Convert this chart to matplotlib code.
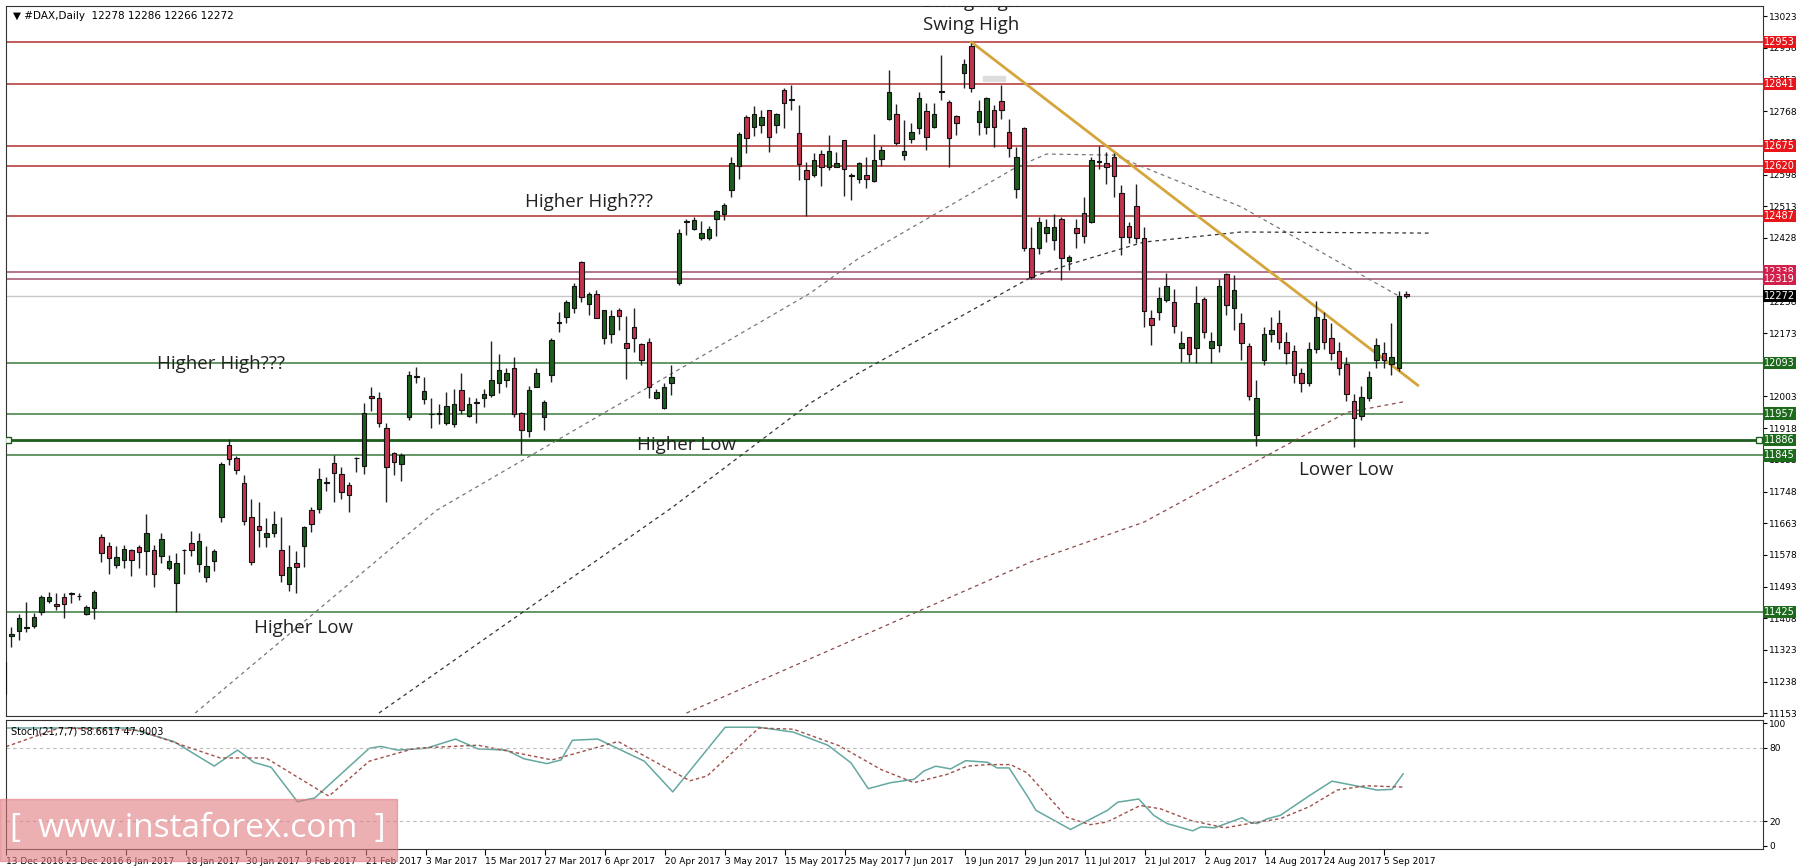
import numpy as np
import matplotlib
matplotlib.use("Agg")
import matplotlib.pyplot as plt
from matplotlib.patches import Rectangle
from matplotlib.transforms import blended_transform_factory

# ---- daily DAX bars ----
opens = [11205, 11360, 11375, 11385, 11387, 11426, 11455, 11446, 11466, 11475, 11468, 11420, 11435, 11625, 11603, 11551,
         11564, 11591, 11598, 11589, 11591, 11576, 11544, 11502, 11591, 11611, 11553, 11518, 11562, 11680, 11872, 11839,
         11772, 11680, 11656, 11625, 11638, 11591, 11499, 11555, 11603, 11698, 11700, 11770, 11825, 11795, 11765, 11837,
         11816, 12004, 11998, 11917, 11852, 11823, 11949, 12056, 11995, 11955, 11956, 11931, 11929, 12020, 11951, 11986,
         11998, 12007, 12038, 12047, 12080, 11959, 11911, 12029, 11949, 12060, 12201, 12217, 12239, 12364, 12251, 12277,
         12159, 12170, 12236, 12147, 12188, 12143, 12150, 11998, 11971, 12038, 12306, 12471, 12453, 12429, 12427, 12480,
         12492, 12556, 12621, 12753, 12726, 12732, 12771, 12730, 12824, 12799, 12710, 12610, 12596, 12654, 12619, 12617,
         12690, 12594, 12587, 12596, 12581, 12641, 12746, 12760, 12650, 12692, 12722, 12769, 12726, 12820, 12793, 12755,
         12869, 12942, 12739, 12726, 12772, 12796, 12713, 12558, 12724, 12402, 12400, 12440, 12422, 12480, 12367, 12456,
         12494, 12471, 12632, 12628, 12646, 12549, 12460, 12513, 12427, 12212, 12230, 12261, 12257, 12132, 12163, 12132,
         12263, 12132, 12141, 12331, 12239, 12201, 12138, 11900, 12102, 12170, 12200, 12150, 12125, 12065, 12040, 12130,
         12210, 12160, 12125, 12090, 11990, 11950, 12000, 12100, 12120, 12090, 12080, 12278]
highs = [11300, 11385, 11420, 11452, 11421, 11470, 11479, 11475, 11475, 11479, 11475, 11443, 11484, 11634, 11613, 11602,
         11604, 11595, 11604, 11689, 11604, 11636, 11578, 11582, 11595, 11643, 11636, 11603, 11595, 11828, 11890, 11843,
         11792, 11729, 11721, 11676, 11696, 11680, 11604, 11589, 11655, 11707, 11810, 11787, 11846, 11813, 11774, 11841,
         11986, 12029, 12016, 11932, 11855, 11852, 12072, 12082, 12056, 11998, 11984, 12016, 12022, 12065, 12002, 11998,
         12024, 12152, 12118, 12078, 12108, 11962, 12031, 12078, 11993, 12159, 12230, 12261, 12306, 12366, 12284, 12288,
         12236, 12236, 12239, 12218, 12239, 12147, 12159, 12022, 12038, 12087, 12451, 12480, 12485, 12474, 12460, 12504,
         12522, 12645, 12713, 12757, 12781, 12772, 12772, 12762, 12829, 12838, 12784, 12632, 12655, 12663, 12704, 12659,
         12690, 12601, 12632, 12646, 12706, 12674, 12878, 12787, 12744, 12737, 12820, 12789, 12789, 12918, 12797, 12759,
         12909, 12951, 12797, 12805, 12784, 12838, 12748, 12672, 12726, 12458, 12483, 12480, 12492, 12485, 12382, 12478,
         12537, 12646, 12674, 12659, 12655, 12570, 12471, 12574, 12458, 12234, 12297, 12335, 12290, 12179, 12163, 12299,
         12270, 12176, 12319, 12335, 12328, 12227, 12147, 12047, 12190, 12215, 12234, 12175, 12140, 12080, 12150, 12260,
         12230, 12200, 12150, 12110, 12010, 12030, 12070, 12160, 12150, 12200, 12285, 12286]
lows = [11170, 11330, 11350, 11370, 11381, 11417, 11448, 11430, 11408, 11450, 11457, 11417, 11405, 11560, 11528, 11544,
        11544, 11521, 11544, 11524, 11491, 11555, 11537, 11426, 11528, 11576, 11533, 11506, 11536, 11667, 11819, 11795,
        11658, 11551, 11600, 11600, 11627, 11506, 11481, 11477, 11546, 11640, 11691, 11750, 11721, 11728, 11692, 11801,
        11795, 11965, 11922, 11721, 11792, 11777, 11940, 12038, 11984, 11917, 11930, 11926, 11922, 11957, 11948, 11931,
        11974, 12002, 12011, 12029, 11949, 11848, 11895, 12027, 11913, 12042, 12176, 12199, 12227, 12257, 12221, 12212,
        12143, 12145, 12181, 12049, 12123, 12087, 11998, 11995, 11968, 12007, 12302, 12436, 12449, 12422, 12422, 12433,
        12476, 12538, 12587, 12656, 12701, 12710, 12659, 12710, 12724, 12772, 12583, 12487, 12592, 12568, 12610, 12617,
        12540, 12529, 12576, 12563, 12579, 12621, 12744, 12677, 12637, 12683, 12708, 12663, 12724, 12799, 12619, 12704,
        12829, 12820, 12704, 12708, 12672, 12748, 12646, 12534, 12394, 12317, 12386, 12418, 12395, 12315, 12342, 12402,
        12415, 12469, 12614, 12574, 12538, 12382, 12415, 12415, 12190, 12141, 12208, 12257, 12172, 12096, 12096, 12092,
        12159, 12092, 12123, 12221, 12181, 12100, 11993, 11870, 12088, 12150, 12130, 12090, 12040, 12015, 12030, 12120,
        12130, 12100, 12060, 11990, 11868, 11940, 11990, 12080, 12080, 12060, 12070, 12266]
closes = [11290, 11365, 11410, 11382, 11412, 11466, 11466, 11441, 11446, 11474, 11467, 11437, 11479, 11582, 11571, 11573,
          11594, 11564, 11585, 11638, 11527, 11620, 11561, 11555, 11590, 11591, 11616, 11549, 11589, 11823, 11835, 11807,
          11670, 11560, 11646, 11637, 11662, 11524, 11546, 11545, 11652, 11662, 11781, 11774, 11798, 11746, 11738, 11838,
          11959, 11998, 11931, 11813, 11828, 11846, 12060, 12055, 12018, 11956, 11957, 11977, 11982, 11966, 11984, 11987,
          12009, 12047, 12075, 12065, 11957, 11913, 12020, 12065, 11987, 12154, 12202, 12257, 12300, 12270, 12279, 12212,
          12234, 12218, 12218, 12134, 12161, 12102, 12027, 12015, 12027, 12056, 12442, 12472, 12476, 12442, 12451, 12500,
          12516, 12629, 12708, 12697, 12760, 12753, 12699, 12760, 12790, 12800, 12626, 12586, 12637, 12619, 12662, 12629,
          12614, 12595, 12628, 12586, 12637, 12663, 12820, 12683, 12662, 12713, 12802, 12699, 12760, 12821, 12695, 12737,
          12894, 12829, 12769, 12802, 12726, 12772, 12668, 12646, 12402, 12322, 12471, 12458, 12458, 12373, 12376, 12440,
          12433, 12637, 12633, 12617, 12594, 12431, 12431, 12429, 12233, 12194, 12266, 12299, 12192, 12147, 12118, 12254,
          12176, 12152, 12299, 12248, 12288, 12147, 12004, 12000, 12170, 12180, 12150, 12120, 12060, 12040, 12130, 12215,
          12150, 12120, 12080, 12010, 11945, 12002, 12055, 12140, 12100, 12110, 12272, 12272]

# moving averages (bar index, price)
ma_fast_x = [25.5, 57.7, 107.5, 114, 135, 139, 148, 165, 186]
ma_fast_y = [11154, 11698, 12280, 12374, 12618, 12653, 12650, 12511, 12272]
ma_mid_x = [50, 89, 107.5, 114, 137, 142.5, 152, 165, 190]
ma_mid_y = [11154, 11704, 11985, 12066, 12323, 12360, 12417, 12444, 12441]
ma_slow_x = [91, 137, 152, 179, 187]
ma_slow_y = [11154, 11560, 11666, 11960, 11990]

# trend line from the swing high
trend_x = [129, 188.5]
trend_y = [12953, 12033]

# horizontal levels
red_levels = [12953, 12841, 12675, 12620, 12487]
pink_levels = [12338, 12319]
green_levels = [12093, 11957, 11845, 11425]
key_level = 11886
bid_level = 12272

# stochastic (21,7,7)
stoch_k_x = [0, 16.3, 22.4, 27.8, 30.9, 33.1, 35.4, 38.9, 41.2, 48.5, 50, 52.3, 56.1, 60, 63, 66.8, 69.1, 72.2, 74.1,
             75.6, 79, 82.1, 85.2, 89, 96, 100.5, 105.1, 109.7, 112.8, 115.1, 118.1, 121.2, 122.5, 124.1, 126.1, 128.1,
             131, 132.3, 133.9, 136.3, 137.5, 142.1, 147, 148.4, 151.2, 153.2, 155, 158.4, 159.5, 161.3, 165, 165.9,
             167, 168.4, 170.1, 174, 177, 179.3, 183, 185, 186.5]
stoch_k_y = [96, 96, 85, 65, 78, 68, 64, 36, 39, 79.5, 81, 78, 79.5, 87, 79, 78, 71, 67, 70, 86, 87, 78, 69, 44, 96.6,
             96.6, 92.6, 82, 67.6, 46.6, 51.5, 54.2, 60.9, 64.9, 62.7, 69.4, 68.1, 63.5, 63.5, 40.9, 28.9, 13.4, 28.9,
             35.6, 38.2, 24.9, 18.2, 12.3, 15.5, 14.7, 23, 19.5, 18.2, 22.2, 24.9, 41, 52.7, 50, 45.5, 46, 58.66]
stoch_d_x = [0, 7.1, 17.8, 24, 28.6, 34.7, 43.1, 48.5, 54.6, 63, 72.9, 81.7, 91.3, 93.6, 100.5, 105.1, 111.2, 116.8,
             121.2, 125.6, 128.3, 131, 134.1, 136.3, 141.6, 144.7, 147, 151.4, 154.1, 158.1, 162.7, 166.7, 170.1, 174,
             177.7, 181.5, 186.5]
stoch_d_y = [80.8, 96, 94, 81, 71.6, 71.6, 40.5, 69, 79.5, 82, 70, 85, 53, 57, 96, 95, 81.6, 62.2, 51.5, 58.2, 64.9,
             66.2, 66.2, 59.5, 23.4, 17.3, 19.5, 32.9, 30.2, 20.8, 14.7, 19, 22.2, 32, 45.5, 49, 47.9]

date_labels = ["13 Dec 2016", "23 Dec 2016", "6 Jan 2017", "18 Jan 2017", "30 Jan 2017", "9 Feb 2017", "21 Feb 2017",
               "3 Mar 2017", "15 Mar 2017", "27 Mar 2017", "6 Apr 2017", "20 Apr 2017", "3 May 2017", "15 May 2017",
               "25 May 2017", "7 Jun 2017", "19 Jun 2017", "29 Jun 2017", "11 Jul 2017", "21 Jul 2017", "2 Aug 2017",
               "14 Aug 2017", "24 Aug 2017", "5 Sep 2017"]
price_ticks = [13023, 12938, 12853, 12768, 12683, 12598, 12513, 12428, 12343, 12258, 12173, 12088, 12003, 11918,
               11833, 11748, 11663, 11578, 11493, 11408, 11323, 11238, 11153]

W, H = 1800, 868
fig = plt.figure(figsize=(W / 100, H / 100), dpi=100)
plt.rcParams['font.family'] = ['DejaVu Sans']

L, R = 6, 1763
ax = fig.add_axes([L / W, 1 - 716 / H, (R - L) / W, (716 - 6) / H])
axs = fig.add_axes([L / W, 1 - 849 / H, (R - L) / W, (849 - 720) / H])

xmin, xmax = 0.27, (R - 4) / 7.5
ax.set_xlim(xmin, xmax)
ax.set_ylim(11146, 13050)

GREEN = "#1e5e1e"
RED = "#c2344e"
idx = np.arange(len(closes))
o = np.array(opens); c = np.array(closes); h = np.array(highs); lo = np.array(lows)
up = c >= o
ax.vlines(idx, lo, h, color="#222222", lw=1, zorder=3)
body_lo = np.minimum(o, c)
body_h = np.maximum(np.abs(c - o), 1.5)
ax.bar(idx, body_h, bottom=body_lo, width=0.62, color=np.where(up, GREEN, RED),
       edgecolor="#111111", lw=0.8, zorder=4)

# levels
for lv in red_levels:
    ax.axhline(lv, color="#b03030", lw=1.1, zorder=1)
for lv in pink_levels:
    ax.axhline(lv, color="#a05070", lw=1.1, zorder=1)
for lv in green_levels:
    ax.axhline(lv, color="#3a7a3a", lw=1.1, zorder=1)
ax.axhline(key_level, color="#1d5e1d", lw=2, zorder=1)
ax.axhline(bid_level, color="#c8c8c8", lw=1, zorder=1)
ax.plot([xmin + 0.3, xmax - 0.5], [key_level, key_level], 's', ms=4, mfc="white", mec="#1d5e1d", zorder=5)

ax.plot(ma_fast_x, ma_fast_y, color="#777777", lw=0.9, ls=(0, (3, 3)), zorder=2)
ax.plot(ma_mid_x, ma_mid_y, color="#333333", lw=0.9, ls=(0, (3, 3)), zorder=2)
ax.plot(ma_slow_x, ma_slow_y, color="#8a4a48", lw=0.9, ls=(0, (3, 3)), zorder=2)
ax.plot(trend_x, trend_y, color="#d4a53a", lw=2, zorder=2)
ax.add_patch(Rectangle((130.5, 12848), 3, 14, color="#dddddd", zorder=2))

# right price axis
ax.yaxis.tick_right()
ax.set_yticks(price_ticks)
ax.set_yticklabels([str(p) for p in price_ticks], fontsize=6.5)
ax.tick_params(axis='y', length=3, pad=1.5)
ax.set_xticks([])
tr = blended_transform_factory(ax.transAxes, ax.transData)
def tag(v, bg):
    ax.text(1.0005, v, str(v), transform=tr, fontsize=7, color="white", va="center", ha="left",
            bbox=dict(boxstyle="square,pad=0.12", fc=bg, ec="none"), zorder=10, clip_on=False)
for lv in red_levels:
    tag(lv, "#e8151b")
for lv in pink_levels:
    tag(lv, "#d2204d")
tag(bid_level, "#000000")
for lv in [12093, 11957, key_level, 11845, 11425]:
    tag(lv, "#1d6a1d")

ax.text(0.004, 0.993, "\u25bc #DAX,Daily  12278 12286 12266 12272", transform=ax.transAxes, fontsize=7.5,
        va="top", ha="left")

ann = dict(fontsize=13.5, color="#222222", ha="center", va="center", family=["Open Sans", "DejaVu Sans"])
ax.text(129, 13060, "Swing High", clip_on=True, **ann)
ax.text(129, 12998, "Swing High", **ann)
ax.text(78, 12525, "Higher High???", **ann)
ax.text(29, 12090, "Higher High???", **ann)
ax.text(91, 11873, "Higher Low", **ann)
ax.text(40, 11383, "Higher Low", **ann)
ax.text(179, 11805, "Lower Low", **ann)

# stochastic
axs.set_xlim(xmin, xmax)
axs.set_ylim(-2.5, 102.5)
axs.plot(stoch_k_x, stoch_k_y, color="#64a8a0", lw=1.1)
axs.plot(stoch_d_x, stoch_d_y, color="#a0504a", lw=1, ls=(0, (2.5, 2)))
for lv in (80, 20):
    axs.axhline(lv, color="#bbbbbb", lw=0.8, ls=(0, (3, 3)))
axs.yaxis.tick_right()
axs.set_yticks([100, 80, 20, 0])
axs.set_yticklabels(["100", "80", "20", "0"], fontsize=6.5)
axs.tick_params(axis='y', length=3, pad=1.5)
axs.text(0.003, 0.95, "Stoch(21,7,7) 58.6617 47.9003", transform=axs.transAxes, fontsize=7, va="top")
tick_pos = np.arange(len(date_labels)) * 8
axs.set_xticks(tick_pos)
axs.set_xticklabels(date_labels, fontsize=6.5, ha="left")
axs.tick_params(axis='x', length=4, pad=1.5)

for a in (ax, axs):
    for s in a.spines.values():
        s.set_color("#333333")

# watermark
fig.patches.append(Rectangle((0, 7), 397, 62, transform=None, color="#e07a80", alpha=0.6, zorder=20))
fig.text(198 / W, 40 / H, "[  www.instaforex.com  ]", color="white", fontsize=24, ha="center", va="center",
         family=["Open Sans", "DejaVu Sans"], zorder=21)

fig.savefig("out.png", dpi=100)
